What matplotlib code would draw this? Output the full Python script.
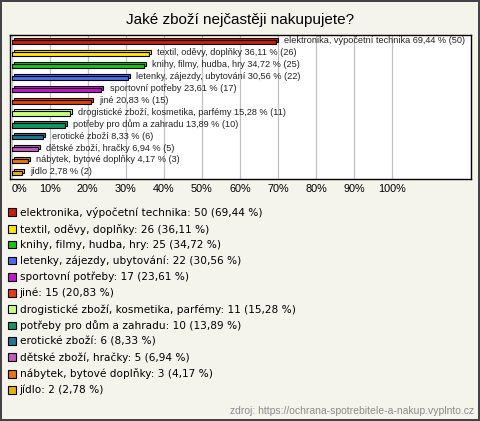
import matplotlib
matplotlib.use("Agg")
import matplotlib.pyplot as plt
from matplotlib.patches import Patch
import matplotlib.transforms as mtransforms

# data
categories = ["elektronika, výpočetní technika", "textil, oděvy, doplňky",
              "knihy, filmy, hudba, hry", "letenky, zájezdy, ubytování",
              "sportovní potřeby", "jiné", "drogistické zboží, kosmetika, parfémy",
              "potřeby pro dům a zahradu", "erotické zboží", "dětské zboží, hračky",
              "nábytek, bytové doplňky", "jídlo"]
counts = [50, 26, 25, 22, 17, 15, 11, 10, 6, 5, 3, 2]
percents = [69.44, 36.11, 34.72, 30.56, 23.61, 20.83, 15.28, 13.89, 8.33, 6.94, 4.17, 2.78]
colors = ["#c81e0a", "#ffe600", "#14c814", "#4a6cf0", "#c814d2", "#e6400a",
          "#c8ff80", "#0f9664", "#1e7891", "#c35ac3", "#e6780a", "#e6b400"]
xticks = list(range(0, 101, 10))

def fmt(v):
    return f"{v:.2f}".replace(".", ",")

bg = "#f4f3ec"
fig = plt.figure(figsize=(4.8, 4.21), dpi=100)
fig.patch.set_facecolor(bg)
fig.patch.set_edgecolor("#444444")
fig.patch.set_linewidth(1.5)

W, H = 480, 421
ax = fig.add_axes([10 / W, 1 - 179 / H, 461 / W, 144 / H])
ax.set_facecolor("white")
for s in ax.spines.values():
    s.set_color("black")
    s.set_linewidth(1.0)

ypos = list(range(len(categories)))
# 3D-ish depth: a copy of each bar shifted up and right
depth = mtransforms.ScaledTranslation(2 / 100, 2 / 100, fig.dpi_scale_trans)
ax.barh(ypos, percents, height=0.36, color=colors, edgecolor="black", linewidth=0.8,
        transform=ax.transData + depth, zorder=3)
ax.barh(ypos, percents, height=0.36, color=colors, edgecolor="black", linewidth=0.8, zorder=4)

for y, cat, p, c in zip(ypos, categories, percents, counts):
    ax.text(p + 2.2, y - 0.1, f"{cat} {fmt(p)} % ({c})", va="center", ha="left",
            fontsize=6.6, family="Liberation Sans", color="#222222", zorder=5)

ax.set_xlim(-0.45, 120.8)
ax.set_ylim(11.5, -0.6)
ax.set_yticks([])
ax.set_xticks(xticks)
ax.set_xticklabels([f"{t}%" for t in xticks], fontsize=7.8, family="Liberation Sans")
ax.get_xticklabels()[0].set_ha("left")
ax.tick_params(axis="x", length=0, pad=3.5)
ax.grid(axis="x", color="#c0c0c0", linewidth=0.9, zorder=0)
ax.set_axisbelow(True)

fig.text(240 / W, 1 - 20 / H, "Jaké zboží nejčastěji nakupujete?", ha="center", va="center",
         fontsize=11, family="Liberation Sans")

handles = [Patch(facecolor=c, edgecolor="black", linewidth=0.8) for c in colors]
labels = [f"{cat}: {c} ({fmt(p)} %)" for cat, c, p in zip(categories, counts, percents)]
fig.legend(handles, labels, loc="upper left", bbox_to_anchor=(8 / W, 1 - 207 / H),
           frameon=False, handlelength=0.75, handleheight=0.75,
           handletextpad=0.35, labelspacing=0.53, borderaxespad=0, borderpad=0,
           prop={"family": "DejaVu Sans", "size": 7.6})

fig.text(474 / W, 1 - 411 / H, "zdroj: https://ochrana-spotrebitele-a-nakup.vyplnto.cz",
         ha="right", va="center", fontsize=7.5, family="Liberation Sans", color="#8c8c8c")

fig.savefig("out.png", dpi=100, facecolor=bg, edgecolor=fig.get_edgecolor())
